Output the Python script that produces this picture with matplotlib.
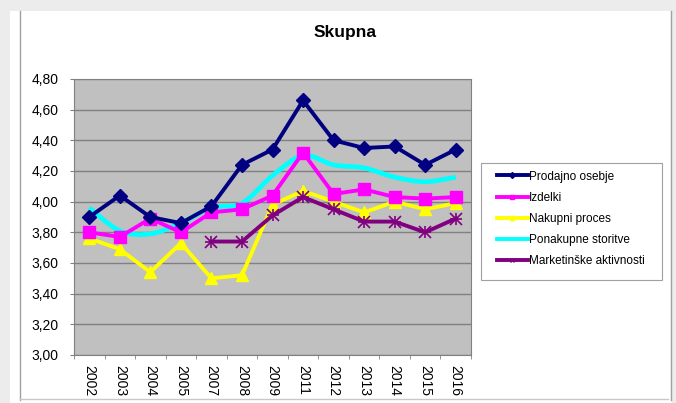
import matplotlib
matplotlib.use("Agg")
import matplotlib.pyplot as plt
import matplotlib.patches as mpatches
from matplotlib.path import Path
from matplotlib.lines import Line2D
import numpy as np

plt.rcParams['font.family'] = ['Liberation Sans', 'DejaVu Sans']

years = ["2002", "2003", "2004", "2005", "2007", "2008", "2009",
         "2011", "2012", "2013", "2014", "2015", "2016"]

prodajno = [3.90, 4.04, 3.90, 3.86, 3.97, 4.24, 4.34, 4.66, 4.40, 4.35, 4.36, 4.24, 4.34]
izdelki = [3.80, 3.77, 3.89, 3.80, 3.93, 3.95, 4.04, 4.32, 4.05, 4.08, 4.03, 4.02, 4.03]
nakupni = [3.76, 3.69, 3.54, 3.73, 3.50, 3.52, 3.98, 4.07, 4.00, 3.93, 4.00, 3.95, 3.99]
ponakupne = [3.96, 3.81, 3.79, 3.86, 3.96, 3.99, 4.17, 4.30, 4.24, 4.22, 4.16, 4.13, 4.16]
marketing = [None, None, None, None, 3.74, 3.74, 3.91, 4.03, 3.95, 3.87, 3.87, 3.80, 3.89]

labels = ["Prodajno osebje", "Izdelki", "Nakupni proces",
          "Ponakupne storitve", "Marketinške aktivnosti"]


def smooth_path(xs, ys):
    # Excel-style smoothed line: cubic Bezier through the points
    pts = np.column_stack([xs, ys])
    verts = [tuple(pts[0])]
    codes = [Path.MOVETO]
    n = len(pts)
    for i in range(n - 1):
        p0 = pts[i - 1] if i > 0 else pts[i]
        p1, p2 = pts[i], pts[i + 1]
        p3 = pts[i + 2] if i + 2 < n else pts[i + 1]
        c1 = p1 + (p2 - p0) / 6
        c2 = p2 - (p3 - p1) / 6
        verts += [tuple(c1), tuple(c2), tuple(p2)]
        codes += [Path.CURVE4] * 3
    return Path(verts, codes)


W, H = 676, 403
fig = plt.figure(figsize=(W / 100, H / 100), dpi=100)
fig.patch.set_facecolor('#ececec')

# white chart panel and its frame
fig.add_artist(mpatches.Rectangle((10 / W, 0), 662 / W, 1 - 11 / H,
                                  transform=fig.transFigure, facecolor='white',
                                  edgecolor='none', zorder=0))
fig.add_artist(Line2D([20 / W, 20 / W], [1 - 11 / H, 1 - 400 / H],
                      transform=fig.transFigure, color='#a0a0a0', lw=1))
fig.add_artist(Line2D([20 / W, 668 / W], [1 - 399 / H, 1 - 399 / H],
                      transform=fig.transFigure, color='#c8c8c8', lw=1))
fig.add_artist(Line2D([671 / W, 671 / W], [1 - 11 / H, 1 - 400 / H],
                      transform=fig.transFigure, color='#a0a0a0', lw=1))

ax = fig.add_axes([74 / W, 1 - 355 / H, (471 - 74) / W, (355 - 79) / H])
ax.set_facecolor('#c0c0c0')

x = np.arange(len(years))
lw = 2.8

ax.plot(x, prodajno, color='#000080', lw=lw, marker='D', ms=7, zorder=5)
ax.plot(x, izdelki, color='#ff00ff', lw=lw, marker='s', ms=8, zorder=4)
ax.plot(x, nakupni, color='#ffff00', lw=lw, marker='^', ms=9, zorder=3)
ax.add_patch(mpatches.PathPatch(smooth_path(x, ponakupne), facecolor='none',
                                edgecolor='#00ffff', lw=3.4, zorder=2))
mk = [np.nan if v is None else v for v in marketing]
ax.plot(x, mk, color='#800080', lw=lw, marker='x', ms=8, mew=1.2, zorder=3)
ax.plot(x, mk, ls='none', marker='+', ms=9, mew=1.2, color='#800080', zorder=3)

ax.set_xlim(-0.5, len(years) - 0.5)
ax.set_ylim(3.0, 4.8)
yt = np.arange(3.0, 4.81, 0.2)
ax.set_yticks(yt)
ax.set_yticklabels([f"{v:.2f}".replace('.', ',') for v in yt], fontsize=10)
ax.set_xticks(x)
ax.set_xticklabels(years, rotation=270, fontsize=10)
ax.set_xticks(np.arange(-0.5, len(years)), minor=True)
ax.tick_params(axis='x', which='major', length=0, pad=7)
ax.tick_params(axis='x', which='minor', length=3, color='#808080')
ax.tick_params(axis='y', length=3, color='#808080', pad=8)
ax.grid(axis='y', color='#808080', lw=1)
ax.set_axisbelow(True)
for s in ax.spines.values():
    s.set_color('#808080')

fig.text(345 / W, 1 - 33 / H, "Skupna", ha='center', va='center',
         fontsize=12.5, fontweight='bold')

# legend frame drawn separately so the box size matches
fig.add_artist(mpatches.Rectangle((481 / W, 1 - 280 / H), (662 - 481) / W,
                                  (280 - 163) / H, transform=fig.transFigure,
                                  facecolor='white', edgecolor='#a0a0a0',
                                  lw=0.8, zorder=1))
handles = [
    Line2D([], [], color='#000080', lw=lw, marker='D', ms=3),
    Line2D([], [], color='#ff00ff', lw=lw, marker='s', ms=3),
    Line2D([], [], color='#ffff00', lw=lw, marker='^', ms=3),
    Line2D([], [], color='#00ffff', lw=lw),
    Line2D([], [], color='#800080', lw=lw, marker='x', ms=3),
]
leg = fig.legend(handles, labels, loc='upper left',
                 bbox_to_anchor=(497 / W, 1 - 170.5 / H),
                 bbox_transform=fig.transFigure, fontsize=8.5,
                 frameon=False, handlelength=2.6,
                 handletextpad=0.1, labelspacing=0.78, borderpad=0,
                 borderaxespad=0)
leg.set_zorder(2)

fig.savefig("out.png", dpi=100)
